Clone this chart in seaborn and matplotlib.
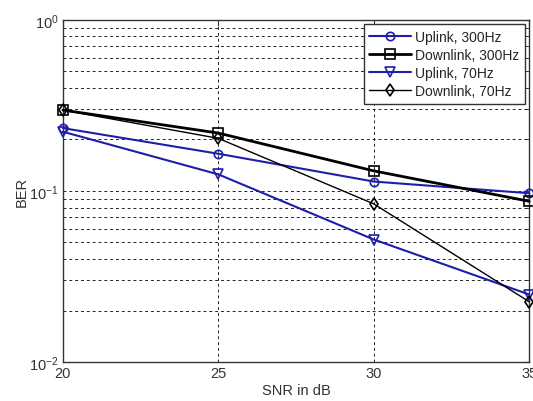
import matplotlib
matplotlib.use("Agg")
import matplotlib.pyplot as plt
import matplotlib.ticker as mticker
import numpy as np
import pandas as pd
import seaborn as sns

snr_db = [20, 25, 30, 35]
uplink_300 = [0.233, 0.165, 0.1135, 0.097]
downlink_300 = [0.297, 0.218, 0.131, 0.087]
uplink_70 = [0.222, 0.125, 0.052, 0.0248]
downlink_70 = [0.297, 0.203, 0.084, 0.0225]

series_names = ["Uplink, 300Hz", "Downlink, 300Hz", "Uplink, 70Hz", "Downlink, 70Hz"]
series_values = [uplink_300, downlink_300, uplink_70, downlink_70]

sns.set_style("white")
plt.rcParams["font.family"] = ["Liberation Sans", "DejaVu Sans"]
plt.rcParams["mathtext.fontset"] = "custom"
plt.rcParams["mathtext.rm"] = "Liberation Sans"
plt.rcParams["mathtext.it"] = "Liberation Sans"

blue = "#1e1eaa"
styles = [
    dict(color=blue, marker="o", lw=1.5, ms=6),
    dict(color="black", marker="s", lw=2.0, ms=7),
    dict(color=blue, marker="v", lw=1.5, ms=6.5),
    dict(color="black", marker="d", lw=1.0, ms=6.5),
]

fig = plt.figure(figsize=(5.33, 4.02), dpi=100)
ax = fig.add_axes([0.118, 0.097, 0.875, 0.851])

for name, vals, st in zip(series_names, series_values, styles):
    df = pd.DataFrame({"SNR": snr_db, "BER": vals})
    sns.lineplot(data=df, x="SNR", y="BER", ax=ax, label=name,
                 color=st["color"], linewidth=st["lw"], marker=st["marker"],
                 markersize=st["ms"], markerfacecolor="none",
                 markeredgecolor=st["color"], markeredgewidth=1.2,
                 clip_on=False, zorder=3)

ax.set_yscale("log")
ax.set_xlim(20, 35)
ax.set_ylim(1e-2, 1)
ax.set_xticks([20, 25, 30, 35])
ax.yaxis.set_major_locator(mticker.LogLocator(base=10, numticks=5))
ax.yaxis.set_minor_locator(mticker.LogLocator(base=10, subs=np.arange(2, 10), numticks=20))
ax.yaxis.set_major_formatter(mticker.LogFormatterMathtext())
ax.yaxis.set_minor_formatter(mticker.NullFormatter())

grid_kw = dict(color="#222222", linestyle=(0, (3, 3)), linewidth=0.7)
ax.grid(True, which="major", axis="both", **grid_kw)
ax.grid(True, which="minor", axis="y", **grid_kw)
ax.set_axisbelow(True)

ax.tick_params(axis="both", which="major", direction="in", length=4,
               labelsize=10.5, colors="#333333", pad=3, top=True, right=True)
ax.tick_params(axis="y", which="minor", direction="in", length=2, right=True)
for sp in ax.spines.values():
    sp.set_color("#333333")
    sp.set_linewidth(1.0)

ax.set_xlabel("SNR in dB", fontsize=10.5, color="#333333", labelpad=2)
ax.set_ylabel("BER", fontsize=10.5, color="#333333", labelpad=0)

leg = ax.legend(loc="upper right", fontsize=10, frameon=True, fancybox=False,
                borderaxespad=0.3, handlelength=3.0, handletextpad=0.3,
                labelspacing=0.3, borderpad=0.4)
leg.get_frame().set_edgecolor("#333333")
leg.get_frame().set_linewidth(1.0)
leg.get_frame().set_alpha(1.0)

fig.savefig("out.png", dpi=100)
